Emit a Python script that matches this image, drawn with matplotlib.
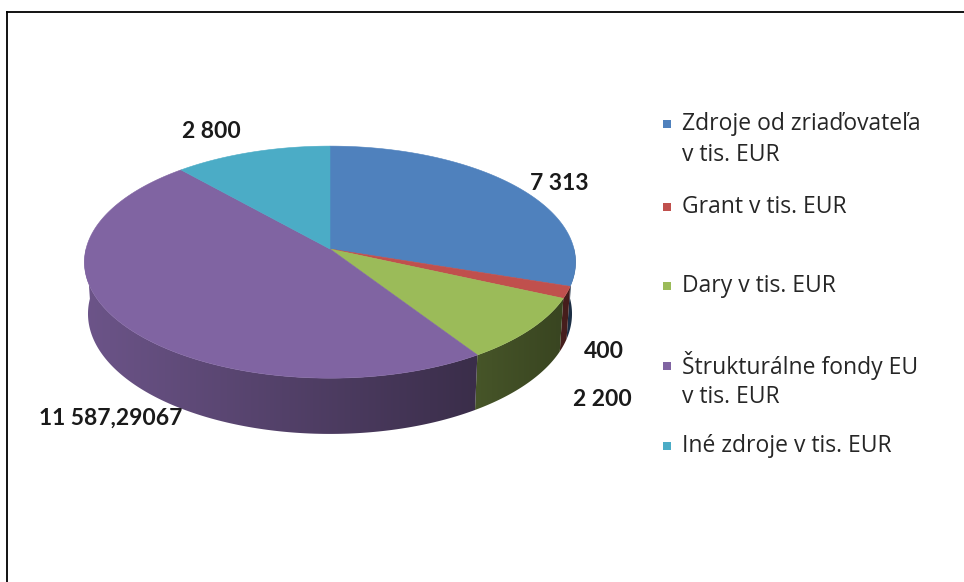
import numpy as np
import matplotlib
matplotlib.use("Agg")
import matplotlib.pyplot as plt
from matplotlib.patches import Polygon, Rectangle
from matplotlib.colors import to_rgb

plt.rcParams["font.family"] = ["Lato", "DejaVu Sans"]

# ----- data -------------------------------------------------------------
labels = ["Zdroje od zriaďovateľa\nv tis. EUR",
          "Grant v tis. EUR",
          "Dary v tis. EUR",
          "Štrukturálne fondy EU\nv tis. EUR",
          "Iné zdroje v tis. EUR"]
values = np.array([7313, 400, 2200, 11587.29067, 2800])
colors = ["#4f81bd", "#c0504d", "#9bbb59", "#8064a2", "#4bacc6"]

# ----- layout (pixels) ----------------------------------------------------
W, H = 964, 582
CX, CY, SCALE = 330, 249, 244
DIST, TILT, THICK = 7.8, np.radians(28), 0.242
label_xy = [(530, 183, "left"), (584, 352, "left"), (573, 400, "left"),
            (182, 418, "right"), (211, 132, "center")]
legend_y = [124, 207, 286, 366, 446]
line_gap = 31


def project(x, y, z):
    # perspective view of a unit disc, y pointing away from the viewer
    depth = DIST + y * np.cos(TILT) - z * np.sin(TILT)
    k = SCALE * DIST / depth
    return CX + x * k, CY - (y * np.sin(TILT) + z * np.cos(TILT)) * k


def fmt(v):
    if float(v).is_integer():
        return f"{int(v):,}".replace(",", " ")
    s = f"{v:,.5f}"
    return s.replace(",", " ").replace(".", ",")


fig = plt.figure(figsize=(W / 100, H / 100), dpi=100)
ax = fig.add_axes([0, 0, 1, 1])
ax.set_xlim(0, W)
ax.set_ylim(H, 0)
ax.axis("off")

# slice boundaries, clockwise from 12 o'clock
edges = 90 - 360 * np.concatenate([[0], np.cumsum(values)]) / values.sum()

# ----- outer wall: one polygon per slice, filled with a shaded gradient ----
xgrid = np.arange(0, W + 1)
for i, col in enumerate(colors):
    base = np.array(to_rgb(col))
    th = np.radians(np.linspace(edges[i], edges[i + 1], 400))
    th = th[np.sin(th) <= 0.02]
    if len(th) < 2:
        continue
    xt, yt = project(np.cos(th), np.sin(th), 0)
    xb, yb = project(np.cos(th[::-1]), np.sin(th[::-1]), -THICK)
    wall = Polygon(np.column_stack([np.r_[xt, xb], np.r_[yt, yb]]),
                   closed=True, fc="none", ec="none")
    ax.add_patch(wall)
    # light comes from the left: darker towards the right of the pie
    cosx = np.clip((xgrid - CX) / 250.0, -1, 1)
    shade = np.clip(0.6 - 0.25 * cosx, 0, 1)
    img = (base[None, :] * shade[:, None])[None, :, :]
    im = ax.imshow(img, extent=(0, W + 1, H, 0), aspect="auto",
                   interpolation="bilinear", zorder=1)
    im.set_clip_path(wall)

# ----- top face ------------------------------------------------------------
for i, col in enumerate(colors):
    th = np.radians(np.linspace(edges[i], edges[i + 1], 200))
    xs, ys = project(np.cos(th), np.sin(th), 0)
    x0, y0 = project(0, 0, 0)
    pts = np.column_stack([np.r_[x0, xs], np.r_[y0, ys]])
    ax.add_patch(Polygon(pts, closed=True, fc=col, ec=col, lw=0.4, zorder=2))

ax.set_xlim(0, W)
ax.set_ylim(H, 0)

# ----- value labels ---------------------------------------------------------
for v, (x, y, ha) in zip(values, label_xy):
    ax.text(x, y, fmt(v), ha=ha, va="center", fontsize=16.5,
            fontweight="bold", color="#1a1a1a", zorder=3)

# ----- legend ---------------------------------------------------------------
for lab, col, y in zip(labels, colors, legend_y):
    ax.add_patch(Rectangle((663, y - 4), 8, 8, fc=col, ec="none", zorder=3))
    for j, line in enumerate(lab.split("\n")):
        ax.text(682, y + j * line_gap, line, ha="left", va="center",
                fontsize=16.5, color="#262626", family=["Open Sans", "DejaVu Sans"],
                zorder=3)

# chart frame
ax.plot([7, W], [12, 12], color="black", lw=1.3, clip_on=False, zorder=4)
ax.plot([7, 7], [12, H], color="black", lw=1.3, clip_on=False, zorder=4)

fig.savefig("out.png", dpi=100)
